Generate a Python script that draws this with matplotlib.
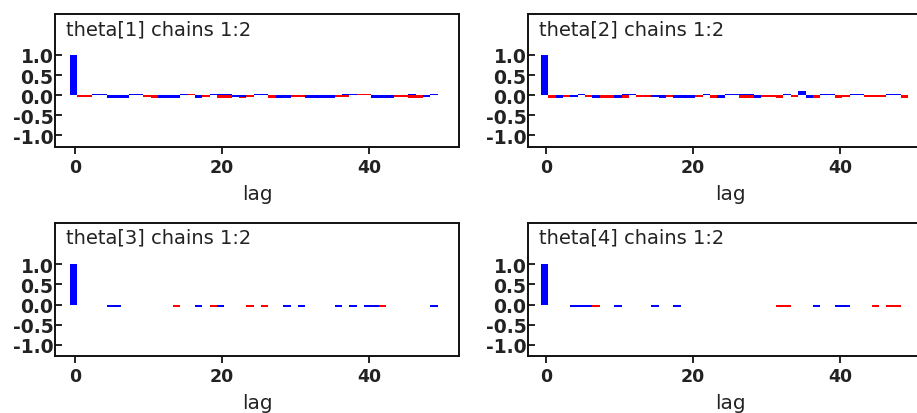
import numpy as np
import matplotlib.pyplot as plt

# autocorrelation of two chains (red = chain 1, blue = chain 2), lags 0..49
lags = np.arange(0, 50)
titles = ["theta[1] chains 1:2", "theta[2] chains 1:2",
          "theta[3] chains 1:2", "theta[4] chains 1:2"]

red1 = [1.0, -0.04, -0.04, 0, 0, -0.08, -0.08, 0, 0, 0, -0.04,
        -0.06, -0.08, -0.08, 0, 0, 0.04, -0.04, -0.04, 0, -0.07,
        -0.07, 0, -0.08, -0.04, 0, 0, -0.08, 0, 0, -0.04,
        -0.04, -0.04, -0.04, 0, 0, -0.04, -0.04, 0, 0.04, 0.04,
        0, -0.08, -0.08, -0.04, -0.04, -0.08, -0.08, 0, 0]
blue1 = [1.0, 0, 0, 0.04, 0.04, -0.08, -0.08, -0.06, 0.04, 0.04, 0,
         0, -0.08, -0.08, -0.07, 0.04, 0, -0.06, 0, 0.04, 0.04,
         0.04, -0.05, -0.04, 0, 0.04, 0.04, 0, -0.06, -0.08, 0,
         0, -0.07, -0.08, -0.08, -0.08, 0, 0.04, 0.04, 0, 0,
         -0.08, -0.08, -0.07, 0, 0, 0.04, 0, -0.04, 0.04]

red2 = [1.0, -0.07, 0, -0.04, 0, 0, -0.04, 0, -0.08, -0.08, 0,
        -0.08, 0, -0.04, -0.04, 0, 0, -0.04, -0.08, -0.08, 0,
        -0.04, 0, -0.07, -0.07, 0, 0, -0.08, -0.08, 0, -0.04,
        -0.04, -0.08, 0, -0.04, 0, 0, -0.08, 0, 0, -0.08,
        -0.04, 0, 0, -0.04, -0.04, -0.05, 0, 0, -0.07]
blue2 = [1.0, 0, -0.07, 0, -0.05, 0.04, 0, -0.07, 0, 0, -0.08,
         0.04, 0.04, 0, 0, -0.05, -0.08, 0, -0.08, -0.08, -0.08,
         0, 0.04, 0, -0.06, 0.04, 0.04, 0.04, 0.04, -0.08, 0,
         0, 0, 0.04, 0, 0.1, -0.07, 0, 0.04, 0.04, 0,
         0, 0.04, 0.04, 0, 0, 0, 0.04, 0.04, 0]

red3 = [1.0, 0, 0, 0, 0, 0, 0, 0, 0, 0, 0,
        0, 0, 0, -0.055, 0, 0, 0, 0, -0.055, 0,
        0, 0, 0, -0.055, 0, -0.055, 0, 0, 0, 0,
        0, 0, 0, 0, 0, 0, 0, 0, 0, 0,
        0, -0.055, 0, 0, 0, 0, 0, 0, 0]
blue3 = [1.0, 0, 0, 0, 0, -0.055, -0.055, 0, 0, 0, 0,
         0, 0, 0, 0, 0, 0, -0.055, 0, 0, -0.055,
         0, 0, 0, 0, 0, 0, 0, 0, -0.055, 0,
         -0.055, 0, 0, 0, 0, -0.055, 0, -0.055, 0, -0.055,
         -0.055, 0, 0, 0, 0, 0, 0, 0, -0.055]

red4 = [1.0, 0, 0, 0, 0, 0, 0, -0.055, 0, 0, 0,
        0, 0, 0, 0, 0, 0, 0, 0, 0, 0,
        0, 0, 0, 0, 0, 0, 0, 0, 0, 0,
        0, -0.055, -0.055, 0, 0, 0, 0, 0, 0, 0,
        0, 0, 0, 0, -0.055, 0, -0.055, -0.055, 0]
blue4 = [1.0, 0, 0, 0, -0.055, -0.055, -0.055, 0, 0, 0, -0.055,
         0, 0, 0, 0, -0.055, 0, 0, -0.055, 0, 0,
         0, 0, 0, 0, 0, 0, 0, 0, 0, 0,
         0, 0, 0, 0, 0, 0, -0.055, 0, 0, -0.055,
         -0.055, 0, 0, 0, 0, 0, 0, 0, 0]

reds = [red1, red2, red3, red4]
blues = [blue1, blue2, blue3, blue4]

fig = plt.figure(figsize=(9.17, 4.14), dpi=100)
W, H = 917, 414
lefts = [55, 528, 55, 528]
tops = [15, 15, 224, 224]
xlims = [(-2.72, 52.2), (-2.45, 52.5), (-2.72, 52.2), (-2.45, 52.5)]
ylims = [(-1.29, 2.02), (-1.29, 2.02), (-1.28, 2.03), (-1.28, 2.03)]
txt_col = '#222222'

for i in range(4):
    ax = fig.add_axes([lefts[i] / W, 1 - (tops[i] + 133) / H, 404 / W, 133 / H])
    ax.bar(lags - 0.2, reds[i], width=1.0, color='#ff0000', linewidth=0)
    ax.bar(lags - 0.2, blues[i], width=1.0, color='#0000ff', linewidth=0)
    ax.set_xlim(*xlims[i])
    ax.set_ylim(*ylims[i])
    ax.set_xticks([0, 20, 40])
    ax.set_yticks([-1.0, -0.5, 0.0, 0.5, 1.0])
    ax.set_yticklabels(["-1.0", "-0.5", "0.0", "0.5", "1.0"])
    for s in ax.spines.values():
        s.set_linewidth(1.4)
        s.set_color('#111111')
    ax.tick_params(axis='y', direction='in', length=5, width=1.2, pad=1,
                   labelsize=13.5, labelcolor=txt_col)
    ax.tick_params(axis='x', direction='out', length=5, width=1.2, pad=3,
                   labelsize=12.5, labelcolor=txt_col)
    for lab in ax.get_xticklabels() + ax.get_yticklabels():
        lab.set_fontweight('bold')
    ax.set_xlabel("lag", fontsize=14.5, color=txt_col, labelpad=6)
    ax.text(11 / 404, 1 - 5 / 133, titles[i], transform=ax.transAxes,
            ha='left', va='top', fontsize=14, color=txt_col)

fig.savefig("out.png", dpi=100)
